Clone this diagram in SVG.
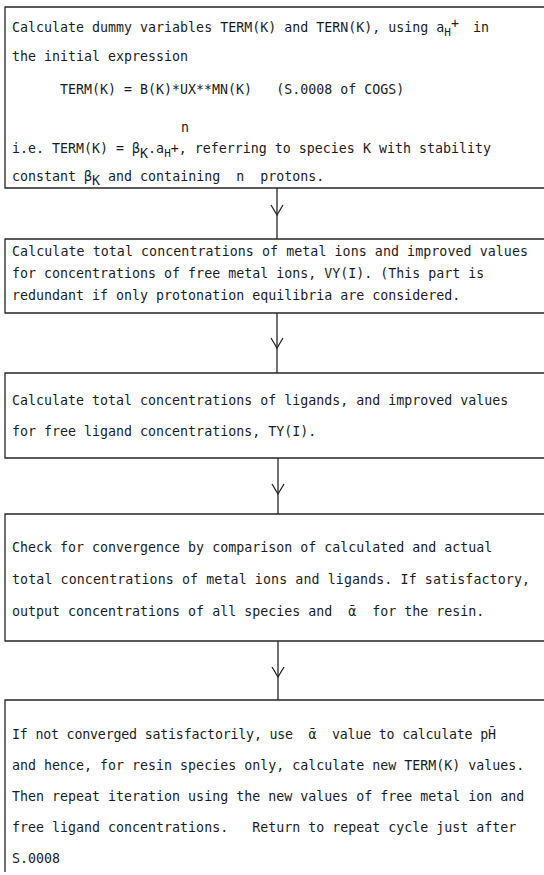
<svg xmlns="http://www.w3.org/2000/svg" width="544" height="875" viewBox="0 0 544 875">
<style>
.box{fill:none;stroke:#262626;stroke-width:1.3}
.con{fill:none;stroke:#262626;stroke-width:1.3}
.t{font-family:"DejaVu Sans Mono","Liberation Mono",monospace;font-size:13.3px;fill:#1c1c1c;white-space:pre}
.s{font-size:11px}
</style>
<defs>
<marker id="chev" markerUnits="userSpaceOnUse" markerWidth="20" markerHeight="20" viewBox="-12 -10 14 20" refX="0" refY="0" orient="auto">
<path d="M-10,-6 L0,0 L-10,6" fill="none" stroke="#262626" stroke-width="1.3"/>
</marker>
</defs>
<rect width="544" height="875" fill="#fff"/>
<g id="connectors">
<path class="con" d="M277,188 V215 V239" marker-mid="url(#chev)"/>
<path class="con" d="M277,313 V348 V373" marker-mid="url(#chev)"/>
<path class="con" d="M278,458 V494 V514" marker-mid="url(#chev)"/>
<path class="con" d="M278,641 V677 V700" marker-mid="url(#chev)"/>
</g>
<g id="node1">
<path class="box" d="M544,7 H5 V188 H544"/>
<text class="t" x="12" y="32">Calculate dummy variables TERM(K) and TERN(K), using a<tspan class="s" dy="4">H</tspan><tspan dy="-8">+</tspan><tspan x="473" dy="4">in</tspan></text>
<text class="t" x="12" y="61">the initial expression</text>
<text class="t" x="60" y="94">TERM(K) = B(K)*UX**MN(K)   (S.0008 of COGS)</text>
<text class="t" x="181" y="132">n</text>
<text class="t" x="12" y="153">i.e. TERM(K) = β<tspan dy="5">K</tspan><tspan dy="-5">.a</tspan><tspan class="s" dy="4">H</tspan><tspan dy="-4">+, referring to species K with stability</tspan></text>
<text class="t" x="12" y="181">constant β<tspan dy="4">K</tspan><tspan dy="-4"> and containing  n  protons.</tspan></text>
</g>
<g id="node2">
<path class="box" d="M544,239 H5 V313 H544"/>
<text class="t" x="12" y="256" textLength="516" lengthAdjust="spacing">Calculate total concentrations of metal ions and improved values</text>
<text class="t" x="12" y="278">for concentrations of free metal ions, VY(I). (This part is</text>
<text class="t" x="12" y="300">redundant if only protonation equilibria are considered.</text>
</g>
<g id="node3">
<path class="box" d="M544,373 H5 V458 H544"/>
<text class="t" x="12" y="405">Calculate total concentrations of ligands, and improved values</text>
<text class="t" x="12" y="436">for free ligand concentrations, TY(I).</text>
</g>
<g id="node4">
<path class="box" d="M544,514 H5 V641 H544"/>
<text class="t" x="12" y="552">Check for convergence by comparison of calculated and actual</text>
<text class="t" x="12" y="584" textLength="518" lengthAdjust="spacing">total concentrations of metal ions and ligands. If satisfactory,</text>
<text class="t" x="12" y="616">output concentrations of all species and  ᾱ  for the resin.</text>
</g>
<g id="node5">
<path class="box" d="M544,700 H5 V872"/>
<text class="t" x="12" y="739" textLength="484" lengthAdjust="spacing">If not converged satisfactorily, use  ᾱ  value to calculate pH̄</text>
<text class="t" x="12" y="770">and hence, for resin species only, calculate new TERM(K) values.</text>
<text class="t" x="12" y="801">Then repeat iteration using the new values of free metal ion and</text>
<text class="t" x="12" y="832">free ligand concentrations.   Return to repeat cycle just after</text>
<text class="t" x="12" y="863">S.0008</text>
</g>
</svg>
